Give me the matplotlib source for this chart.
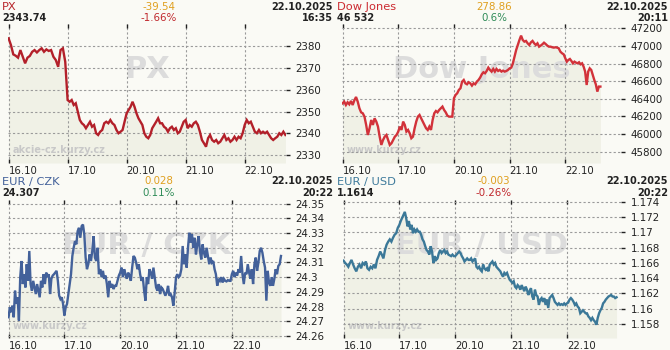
import numpy as np
import matplotlib
matplotlib.use('Agg')
import matplotlib.pyplot as plt
import matplotlib.transforms as mtransforms

## == data, one list per trading day (16.10, 17.10, 20.10, 21.10, 22.10) ==
day_labels = ['16.10', '17.10', '20.10', '21.10', '22.10']

px_vals = [
    [2383.7, 2380.6, 2376.3, 2375.7, 2374.8, 2378.3, 2375.2, 2372.2, 2374.8, 2375.6, 2377.5, 2378.3, 2377.2,
     2378.3, 2379.1, 2377.5, 2378.6, 2377.9, 2378.3, 2375.2, 2373.7, 2370.6, 2378.3, 2379.1, 2372.9],
    [2355.3, 2354.5, 2355.3, 2353.0, 2353.8, 2349.9, 2346.1, 2344.6, 2343.8, 2342.3, 2343.8, 2345.3, 2343.0,
     2343.8, 2340.0, 2339.2, 2340.7, 2341.5, 2344.6, 2345.3, 2344.6, 2346.1, 2344.6, 2343.8, 2341.5, 2340.0,
     2340.7, 2341.5, 2345.3],
    [2349.2, 2350.7, 2352.2, 2354.5, 2352.2, 2349.2, 2346.9, 2345.3, 2343.8, 2340.0, 2338.4, 2337.7, 2339.2,
     2342.3, 2343.8, 2345.3, 2346.9, 2344.6, 2344.6, 2343.0, 2342.3, 2340.7, 2342.3, 2343.0, 2341.5, 2342.3,
     2340.0, 2340.7, 2343.0, 2345.3],
    [2346.1, 2342.3, 2343.8, 2343.0, 2344.6, 2345.3, 2343.8, 2340.7, 2336.9, 2335.4, 2333.8, 2337.7, 2339.2,
     2336.9, 2336.1, 2336.9, 2335.4, 2336.1, 2337.7, 2339.2, 2336.9, 2337.7, 2336.1, 2336.9, 2338.4, 2336.9,
     2338.4, 2337.7, 2340.0],
    [2343.8, 2346.1, 2344.6, 2345.3, 2343.0, 2340.7, 2340.0, 2341.5, 2340.0, 2340.7, 2340.0, 2340.7, 2339.2,
     2337.7, 2336.9, 2337.7, 2338.4, 2340.0, 2339.2, 2340.7, 2339.2],
]
px_end = 0.69

dow_vals = [
    [46349, 46368, 46330, 46361, 46338, 46376, 46330, 46383, 46421, 46368, 46293, 46247, 46236, 46198, 46104,
     45990, 46066, 46160, 46104, 46179, 46142, 46085, 45971, 45877, 45933, 45971, 45990, 45933, 45877, 45896,
     45933, 45971, 45990],
    [46028, 46085, 46047, 46142, 46104, 46028, 46047, 46009, 45953, 45971, 46066, 46142, 46198, 46217, 46179,
     46142, 46104, 46066, 46047, 46085, 46047, 46160, 46236, 46262, 46247, 46274, 46293, 46312, 46274, 46247,
     46210, 46198, 46198, 46198],
    [46406, 46444, 46463, 46501, 46520, 46595, 46614, 46576, 46565, 46588, 46576, 46550, 46576, 46565, 46595,
     46614, 46641, 46678, 46701, 46690, 46716, 46754, 46728, 46709, 46739, 46709, 46739, 46716, 46728, 46709,
     46720, 46709, 46716, 46728],
    [46746, 46754, 46803, 46879, 46954, 47011, 47068, 47117, 47068, 47049, 47057, 47030, 47011, 47041, 47057,
     47030, 47011, 47030, 46992, 47004, 47019, 47037, 47022, 47004, 46992, 46992, 46985, 46981, 46985, 46981,
     46973, 46935, 46917, 46905],
    [46860, 46822, 46841, 46852, 46830, 46803, 46822, 46811, 46803, 46815, 46792, 46803, 46765, 46709, 46557,
     46709, 46746, 46728, 46671, 46614, 46565, 46482, 46539, 46539],
]
dow_end = 0.63

czk_vals = [
    [24.2727, 24.2795, 24.2761, 24.2806, 24.2727, 24.2908, 24.2818, 24.2863, 24.2705, 24.3000, 24.3110, 24.2953,
     24.3020, 24.2930, 24.3088, 24.2975, 24.3178, 24.2953, 24.2908, 24.2975, 24.2930, 24.2885, 24.2953, 24.2908,
     24.2863, 24.2975, 24.2930, 24.3020, 24.2953, 24.3031, 24.3000, 24.3020, 24.2885, 24.2989, 24.3011, 24.3020,
     24.3031, 24.3043, 24.2975, 24.2874, 24.2851, 24.2863, 24.2818],
    [24.2739, 24.2795, 24.2818, 24.2885, 24.2953, 24.3020, 24.3144, 24.3200, 24.3245, 24.3223, 24.3313, 24.3336,
     24.3268, 24.3347, 24.3358, 24.3291, 24.3133, 24.3054, 24.3088, 24.3155, 24.3110, 24.3178, 24.3279, 24.3133,
     24.3110, 24.3200, 24.3020, 24.3054, 24.3000, 24.3043, 24.2989, 24.3011, 24.2953, 24.2863, 24.2975, 24.2930,
     24.2953, 24.2919, 24.2941, 24.2941, 24.2975, 24.3011],
    [24.3031, 24.3065, 24.3000, 24.3054, 24.3020, 24.2989, 24.3031, 24.3011, 24.2975, 24.3065, 24.3144, 24.3133,
     24.3099, 24.3054, 24.3088, 24.3020, 24.2975, 24.3000, 24.2908, 24.2840, 24.3000, 24.2953, 24.3054, 24.3031,
     24.2989, 24.3065, 24.3000, 24.2930, 24.2908, 24.2953, 24.2885, 24.2930, 24.2919, 24.2896, 24.2874, 24.2896,
     24.2941, 24.2874, 24.2885, 24.2863, 24.2806, 24.2896],
    [24.3000, 24.3020, 24.3000, 24.3011, 24.3054, 24.3212, 24.3088, 24.3155, 24.3065, 24.3200, 24.3302, 24.3234,
     24.3291, 24.3200, 24.3268, 24.3155, 24.3223, 24.3279, 24.3178, 24.3121, 24.3223, 24.3167, 24.3133, 24.3200,
     24.3144, 24.3088, 24.3133, 24.3099, 24.3110, 24.3054, 24.3020, 24.2941, 24.2989, 24.2975, 24.3000, 24.2964,
     24.2989, 24.2975, 24.2971, 24.2980, 24.2975, 24.2975],
    [24.3020, 24.3043, 24.3000, 24.3031, 24.3011, 24.3054, 24.3031, 24.3144, 24.3020, 24.2953, 24.3031, 24.3020,
     24.3088, 24.3031, 24.2989, 24.3054, 24.2953, 24.3088, 24.3133, 24.3043, 24.3099, 24.3178, 24.3200, 24.3167,
     24.3110, 24.3065, 24.2840, 24.3043, 24.2964, 24.2941, 24.3000, 24.2941, 24.2989, 24.3054, 24.3020, 24.3076,
     24.3088, 24.3144],
]
czk_end = 0.88

usd_vals = [
    [1.1663, 1.1660, 1.1658, 1.1655, 1.1660, 1.1664, 1.1658, 1.1653, 1.1649, 1.1655, 1.1658, 1.1653, 1.1660,
     1.1658, 1.1662, 1.1653, 1.1651, 1.1655, 1.1653, 1.1658, 1.1653, 1.1664, 1.1669, 1.1675, 1.1671, 1.1666,
     1.1677, 1.1684, 1.1688, 1.1691, 1.1688, 1.1693, 1.1697, 1.1699, 1.1706],
    [1.1710, 1.1715, 1.1719, 1.1723, 1.1727, 1.1719, 1.1708, 1.1715, 1.1704, 1.1710, 1.1699, 1.1704, 1.1701,
     1.1704, 1.1701, 1.1701, 1.1697, 1.1691, 1.1688, 1.1682, 1.1677, 1.1675, 1.1671, 1.1682, 1.1675, 1.1660,
     1.1669, 1.1664, 1.1666, 1.1673, 1.1677, 1.1673, 1.1675, 1.1677, 1.1673, 1.1675, 1.1671, 1.1670, 1.1669,
     1.1671, 1.1669],
    [1.1669, 1.1671, 1.1673, 1.1675, 1.1673, 1.1669, 1.1666, 1.1662, 1.1664, 1.1666, 1.1664, 1.1664, 1.1666,
     1.1662, 1.1664, 1.1666, 1.1655, 1.1653, 1.1655, 1.1651, 1.1649, 1.1658, 1.1653, 1.1651, 1.1653, 1.1649,
     1.1658, 1.1660, 1.1662, 1.1658, 1.1660, 1.1655, 1.1653, 1.1651, 1.1649, 1.1645, 1.1642, 1.1647, 1.1645,
     1.1647, 1.1642, 1.1638],
    [1.1636, 1.1634, 1.1636, 1.1629, 1.1627, 1.1631, 1.1629, 1.1625, 1.1631, 1.1627, 1.1623, 1.1629, 1.1625,
     1.1618, 1.1623, 1.1627, 1.1616, 1.1612, 1.1625, 1.1618, 1.1616, 1.1605, 1.1612, 1.1614, 1.1609, 1.1614,
     1.1605, 1.1612, 1.1601, 1.1614, 1.1616, 1.1618, 1.1614, 1.1609, 1.1607, 1.1605, 1.1607, 1.1605, 1.1606,
     1.1605, 1.1607, 1.1605],
    [1.1607, 1.1608, 1.1612, 1.1614, 1.1612, 1.1609, 1.1605, 1.1607, 1.1603, 1.1601, 1.1594, 1.1596, 1.1598,
     1.1596, 1.1594, 1.1594, 1.1590, 1.1588, 1.1585, 1.1588, 1.1585, 1.1583, 1.1579, 1.1588, 1.1594, 1.1598,
     1.1601, 1.1607, 1.1609, 1.1612, 1.1614, 1.1616, 1.1617, 1.1618, 1.1616, 1.1616, 1.1614, 1.1615],
]
usd_end = 0.89

px_ticks = [2330, 2340, 2350, 2360, 2370, 2380]
dow_ticks = [45800, 46000, 46200, 46400, 46600, 46800, 47000, 47200]
czk_ticks = [24.26, 24.27, 24.28, 24.29, 24.30, 24.31, 24.32, 24.33, 24.34, 24.35]
usd_ticks = [1.158, 1.160, 1.162, 1.164, 1.166, 1.168, 1.170, 1.172, 1.174]

## header texts
names = ['PX', 'Dow Jones', 'EUR / CZK', 'EUR / USD']
last_vals = ['2343.74', '46 532', '24.307', '1.1614']
changes = ['-39.54', '278.86', '0.028', '-0.003']
pcts = ['-1.66%', '0.6%', '0.11%', '-0.26%']
dates = ['22.10.2025', '22.10.2025', '22.10.2025', '22.10.2025']
times = ['16:35', '20:11', '20:22', '20:22']
sources = ['akcie-cz.kurzy.cz', 'www.kurzy.cz', 'www.kurzy.cz', 'www.kurzy.cz']

## == style ==
W, H = 670, 350
bg = '#fafaf5'
fill_col = '#f0f1e6'
txt = '#222222'
chg_col = '#e0a020'
red_pct, green_pct = '#c0282d', '#2e8b57'

fig = plt.figure(figsize=(W / 100, H / 100), dpi=100, facecolor=bg)

def fx(x): return x / W
def fy(y): return 1 - y / H

def day_x(days, last_end):
    xs = []
    for d, v in enumerate(days):
        n = len(v)
        if d < len(days) - 1:
            xs.append(d + np.arange(n) / n)
        else:
            xs.append(d + np.linspace(0, last_end, n))
    return np.concatenate(xs), np.concatenate([np.array(v, float) for v in days])

def panel(qx, qy, box, days, last_end, xmax, ylim, yticks, fmt, color, title_col, i):
    l, t, r, b = box
    ax = fig.add_axes([fx(l), fy(b), (r - l) / W, (b - t) / H])
    ax.set_facecolor(bg)
    x, y = day_x(days, last_end)
    ax.fill_between(x, y, ylim[0], color=fill_col, lw=0, zorder=1)
    ax.plot(x, y, color=color, lw=1.7, zorder=3, solid_joinstyle='miter')
    ax.set_xlim(-0.015, xmax)
    ax.set_ylim(*ylim)
    for s in ax.spines.values(): s.set_visible(False)
    ax.grid(True, color='#9a9a9a', linestyle=(0, (2, 2)), lw=0.8)
    ax.set_xticks(range(5))
    ax.set_xticklabels(day_labels, fontsize=7.3, color=txt, ha='left')
    off = mtransforms.ScaledTranslation(2.5 / 100, 0, fig.dpi_scale_trans)
    for lab in ax.get_xticklabels(): lab.set_transform(lab.get_transform() + off)
    ax.tick_params(axis='x', top=True, bottom=True, direction='in', length=3, width=1, color=txt, pad=2)
    ax.yaxis.tick_right()
    ax.set_yticks(yticks)
    ax.set_yticklabels([fmt % v for v in yticks], fontsize=7.4, color=txt)
    ax.tick_params(axis='y', direction='out', length=3, width=1, color=txt, pad=4)
    # watermarks
    ax.text(0.5, 0.67, names[i], transform=ax.transAxes, ha='center', va='center',
            fontsize=22, fontweight='bold', color='#dcdcdc', zorder=1.2)
    ax.text(4.5 / (r - l), 0.09, sources[i], transform=ax.transAxes, ha='left', va='center',
            fontsize=7, fontweight='bold', color='#c8c8c8', zorder=1.2)
    # header: two rows of text
    y1, y2 = qy + 9.5, qy + 21
    fig.text(fx(qx + 2), fy(y1), names[i], color=title_col, fontsize=8.2, va='baseline', ha='left')
    fig.text(fx(qx + 2), fy(y2), last_vals[i], color=txt, fontsize=7, fontweight='bold',
             va='baseline', ha='left')
    fig.text(fx(qx + 159), fy(y1), changes[i], color=chg_col, fontsize=7.4, va='baseline', ha='center')
    pc = red_pct if pcts[i].startswith('-') else green_pct
    fig.text(fx(qx + 159), fy(y2), pcts[i], color=pc, fontsize=7.4, va='baseline', ha='center')
    fig.text(fx(qx + 333), fy(y1), dates[i], color=txt, fontsize=7, fontweight='bold',
             va='baseline', ha='right')
    fig.text(fx(qx + 333), fy(y2), times[i], color=txt, fontsize=7, fontweight='bold',
             va='baseline', ha='right')
    return ax

panel(0, 0, (7.7, 24, 286, 163), px_vals, px_end, 4.70, (2326.3, 2390.3), px_ticks, '%d',
      '#b3202a', '#b8262b', 0)
panel(335, 0, (341.7, 24, 621, 163), dow_vals, dow_end, 5.0, (45672, 47249), dow_ticks, '%d',
      '#d2323a', '#cc2a30', 1)
panel(0, 175, (7.7, 200, 286, 338), czk_vals, czk_end, 4.97, (24.2586, 24.3525), czk_ticks, '%g',
      '#43619a', '#43619a', 2)
panel(335, 175, (342.7, 200, 621, 338), usd_vals, usd_end, 4.97, (1.15616, 1.17426), usd_ticks, '%g',
      '#3b7898', '#3d7a9b', 3)

fig.savefig('out.png', dpi=100, facecolor=bg)
